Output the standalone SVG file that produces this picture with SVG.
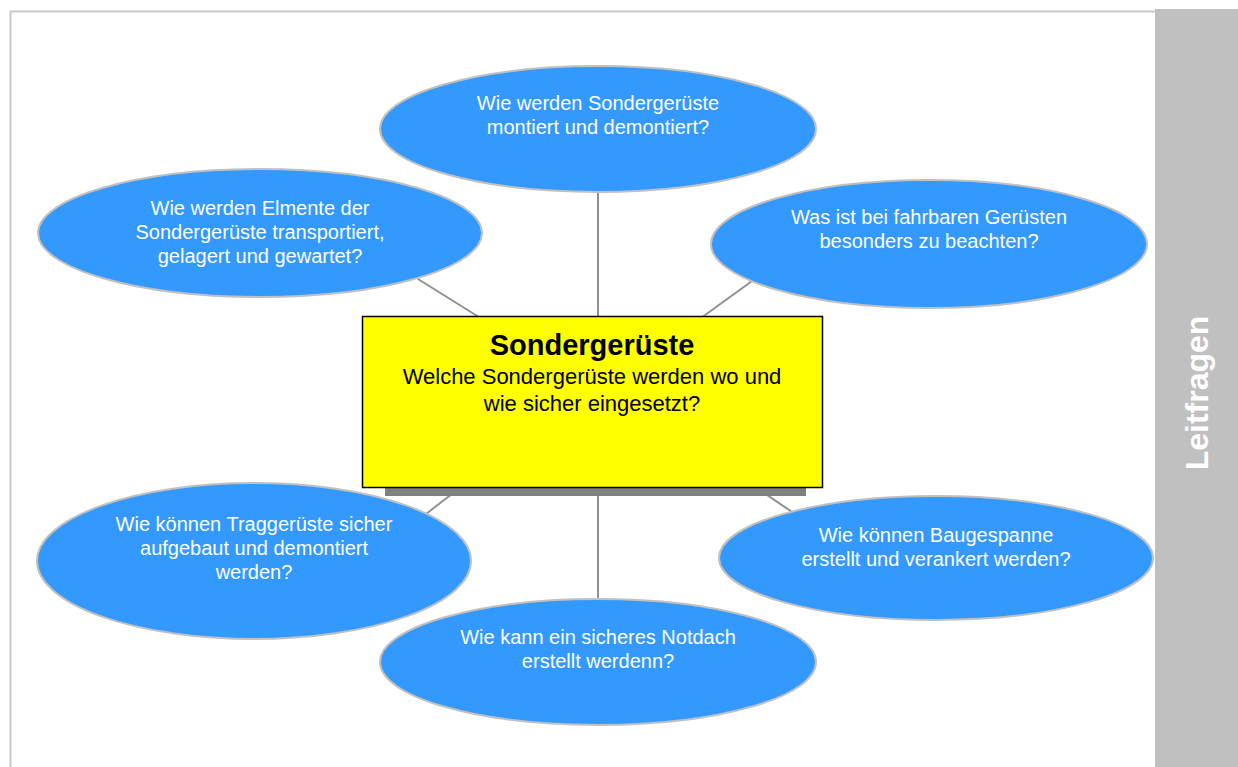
<svg xmlns="http://www.w3.org/2000/svg" width="1238" height="767" viewBox="0 0 1238 767">
<style>
.q{fill:#3399ff;stroke:#c0c0c0;stroke-width:2}
.t{font-family:"Liberation Sans",Arial,sans-serif;font-size:20px;fill:#ffffff;text-anchor:middle}
.c{stroke:#909090;stroke-width:2;fill:none}
.b{font-family:"Liberation Sans",Arial,sans-serif;fill:#000;text-anchor:middle}
</style>
<rect x="0" y="0" width="1238" height="767" fill="#ffffff"/>
<path d="M10.5 767 V11.5 H1156" fill="none" stroke="#c8c8c8" stroke-width="2"/>
<rect x="1155" y="9" width="83" height="758" fill="#c0c0c0"/>
<text x="1208" y="393" transform="rotate(-90 1208 393)" font-family="'Liberation Sans',Arial,sans-serif" font-size="32" font-weight="bold" fill="#ffffff" text-anchor="middle">Leitfragen</text>
<g id="connectors">
<line class="c" x1="598" y1="190" x2="598" y2="330"/>
<line class="c" x1="418" y1="279" x2="490" y2="324"/>
<line class="c" x1="752" y1="281" x2="690" y2="326"/>
<line class="c" x1="598" y1="480" x2="598" y2="602"/>
<line class="c" x1="470" y1="480" x2="426" y2="514"/>
<line class="c" x1="745" y1="480" x2="795" y2="514"/>
</g>
<g id="center">
<rect x="385" y="326" width="421" height="170" fill="#808080"/>
<rect x="362.5" y="316.5" width="460" height="171" fill="#ffff00" stroke="#000" stroke-width="1.5"/>
<text class="b" x="592" y="355" font-size="29" font-weight="bold">Sondergerüste</text>
<text class="b" x="592" y="384" font-size="22">Welche Sondergerüste werden wo und</text>
<text class="b" x="592" y="411" font-size="22">wie sicher eingesetzt?</text>
</g>
<g id="q-top">
<ellipse class="q" cx="598" cy="129" rx="218" ry="63"/>
<text class="t" x="598" y="110">Wie werden Sondergerüste</text>
<text class="t" x="598" y="134">montiert und demontiert?</text>
</g>
<g id="q-upper-left">
<ellipse class="q" cx="260" cy="233" rx="222" ry="64"/>
<text class="t" x="260" y="215">Wie werden Elmente der</text>
<text class="t" x="260" y="239">Sondergerüste transportiert,</text>
<text class="t" x="260" y="263">gelagert und gewartet?</text>
</g>
<g id="q-upper-right">
<ellipse class="q" cx="929" cy="244" rx="218" ry="64"/>
<text class="t" x="929" y="224">Was ist bei fahrbaren Gerüsten</text>
<text class="t" x="929" y="248">besonders zu beachten?</text>
</g>
<g id="q-lower-left">
<ellipse class="q" cx="254" cy="561" rx="217" ry="78"/>
<text class="t" x="254" y="531">Wie können Traggerüste sicher</text>
<text class="t" x="254" y="555">aufgebaut und demontiert</text>
<text class="t" x="254" y="579">werden?</text>
</g>
<g id="q-lower-right">
<ellipse class="q" cx="936" cy="558" rx="217" ry="62"/>
<text class="t" x="936" y="542">Wie können Baugespanne</text>
<text class="t" x="936" y="566">erstellt und verankert werden?</text>
</g>
<g id="q-bottom">
<ellipse class="q" cx="598" cy="662" rx="218" ry="63"/>
<text class="t" x="598" y="644">Wie kann ein sicheres Notdach</text>
<text class="t" x="598" y="668">erstellt werdenn?</text>
</g>
</svg>
